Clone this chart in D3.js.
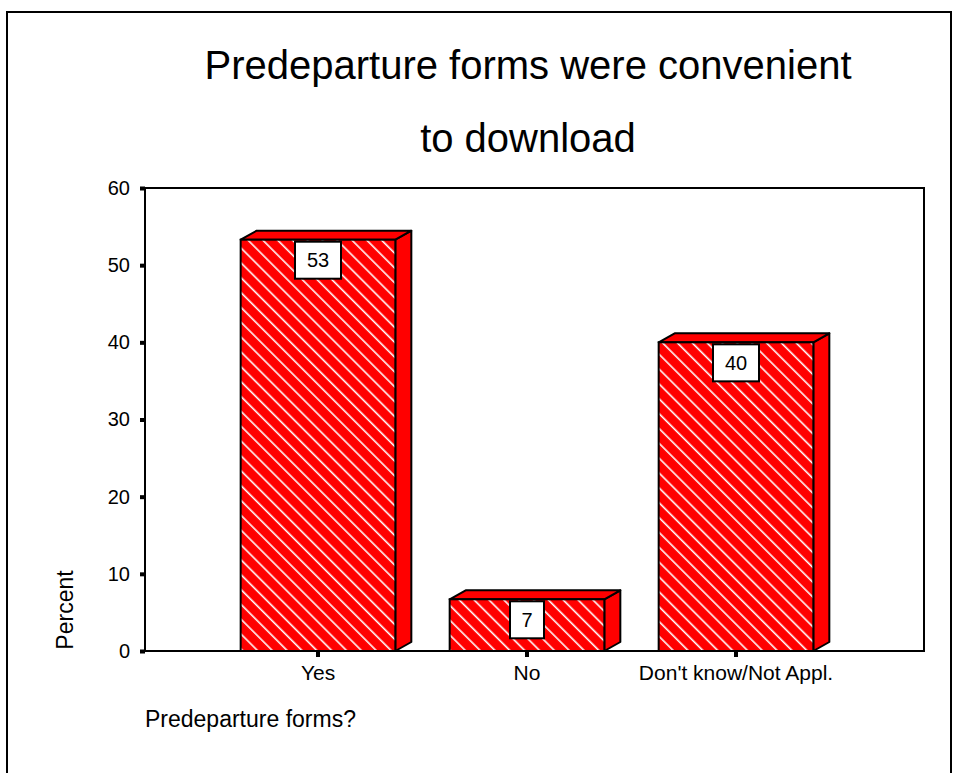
<!DOCTYPE html>
<html><head><meta charset="utf-8">
<script src="https://cdn.jsdelivr.net/npm/d3@7"></script>
<style>body{margin:0;background:#fff;}svg{display:block;font-family:Arial,"Liberation Sans",sans-serif;}</style>
</head><body>
<svg id="c" width="953" height="773"></svg>
<script>
const categories = ["Yes", "No", "Don't know/Not Appl."];
const values = [53.3, 6.7, 40.0];
const valueLabels = ["53", "7", "40"];
const yTicks = [0, 10, 20, 30, 40, 50, 60];
const titleLines = ["Predeparture forms were convenient", "to download"];
const yTitle = "Percent";
const xTitle = "Predeparture forms?";

(function(){
const svg = d3.select("#c");
const defs = svg.append("defs");
const pat = defs.append("pattern").attr("id","hatch").attr("patternUnits","userSpaceOnUse")
  .attr("width",10.5).attr("height",10.5).attr("patternTransform","rotate(45)");
pat.append("rect").attr("width",10.5).attr("height",10.5).attr("fill","#ff0000");
pat.append("line").attr("x1",0).attr("y1",5).attr("x2",10.5).attr("y2",5).attr("stroke","#fff").attr("stroke-width",1.6);

// outer frame
svg.append("rect").attr("x",7).attr("y",12).attr("width",944).attr("height",800)
  .attr("fill","none").attr("stroke","#000").attr("stroke-width",2);

const pL=145, pR=924, pT=188, pB=651;
const y = d3.scaleLinear().domain([0,60]).range([pB, pT]);
const x = d3.scaleBand().domain(categories).range([213.5, 840.5]).paddingInner(0.26).paddingOuter(0.13);

// title
svg.append("g").selectAll("text").data(titleLines).join("text")
  .attr("x",528).attr("y",(d,i)=>79+i*73).attr("text-anchor","middle")
  .attr("font-size",40).attr("fill","#000").text(d=>d);

// plot frame
svg.append("rect").attr("x",pL).attr("y",pT).attr("width",pR-pL).attr("height",pB-pT)
  .attr("fill","none").attr("stroke","#000").attr("stroke-width",2);

// y axis
const yAxis = d3.axisLeft(y).tickValues(yTicks).tickSize(0).tickPadding(15);
const gy = svg.append("g").attr("transform",`translate(${pL},0)`).call(yAxis);
gy.attr("font-size",20).attr("font-family","Arial, Liberation Sans, sans-serif");
gy.select(".domain").remove();
gy.selectAll("text").attr("fill","#000");
gy.selectAll(".tick").append("rect").attr("x",-5).attr("y",-2).attr("width",5).attr("height",4).attr("fill","#000");

// x axis
const xAxis = d3.axisBottom(x).tickSize(0).tickPadding(14);
const gx = svg.append("g").attr("transform",`translate(0,${pB})`).call(xAxis);
gx.attr("font-size",21).attr("font-family","Arial, Liberation Sans, sans-serif");
gx.select(".domain").remove();
gx.selectAll("text").attr("fill","#000");
gx.selectAll(".tick").append("rect").attr("x",-2).attr("y",1).attr("width",4).attr("height",5).attr("fill","#000");

// bars (3D)
const dx=16, dy=9;
const bars = svg.append("g").selectAll("g").data(categories).join("g");
bars.each(function(c,i){
  const g=d3.select(this);
  const x0=x(c), x1=x(c)+x.bandwidth(), yt=y(values[i]), yb=y(0);
  g.append("path").attr("d",`M${x1},${yt}L${x1+dx},${yt-dy}L${x1+dx},${yb-dy}L${x1},${yb}Z`)
    .attr("fill","#ff0000").attr("stroke","#000").attr("stroke-width",2).attr("stroke-linejoin","round");
  g.append("path").attr("d",`M${x0},${yt}L${x0+dx},${yt-dy}L${x1+dx},${yt-dy}L${x1},${yt}Z`)
    .attr("fill","#ff0000").attr("stroke","#000").attr("stroke-width",2).attr("stroke-linejoin","round");
  g.append("rect").attr("x",x0).attr("y",yt).attr("width",x.bandwidth()).attr("height",yb-yt)
    .attr("fill","url(#hatch)").attr("stroke","#000").attr("stroke-width",2);
  const lbl=valueLabels[i];
  const bw = lbl.length>1?46:34, bh=37;
  const cx=x0+x.bandwidth()/2;
  g.append("rect").attr("x",cx-bw/2).attr("y",yt+2).attr("width",bw).attr("height",bh)
    .attr("fill","#fff").attr("stroke","#000").attr("stroke-width",2);
  g.append("text").attr("x",cx).attr("y",yt+2+bh/2+7).attr("text-anchor","middle")
    .attr("font-size",20).attr("fill","#000").text(lbl);
});

// redraw baseline over bars
svg.append("line").attr("x1",pL).attr("x2",pR).attr("y1",pB).attr("y2",pB).attr("stroke","#000").attr("stroke-width",2);

// axis titles
svg.append("text").attr("transform",`translate(73,610) rotate(-90)`).attr("text-anchor","middle")
  .attr("font-size",23).attr("fill","#000").text(yTitle);
svg.append("text").attr("x",145).attr("y",727).attr("font-size",23).attr("fill","#000").text(xTitle);
})();
</script>
</body></html>
